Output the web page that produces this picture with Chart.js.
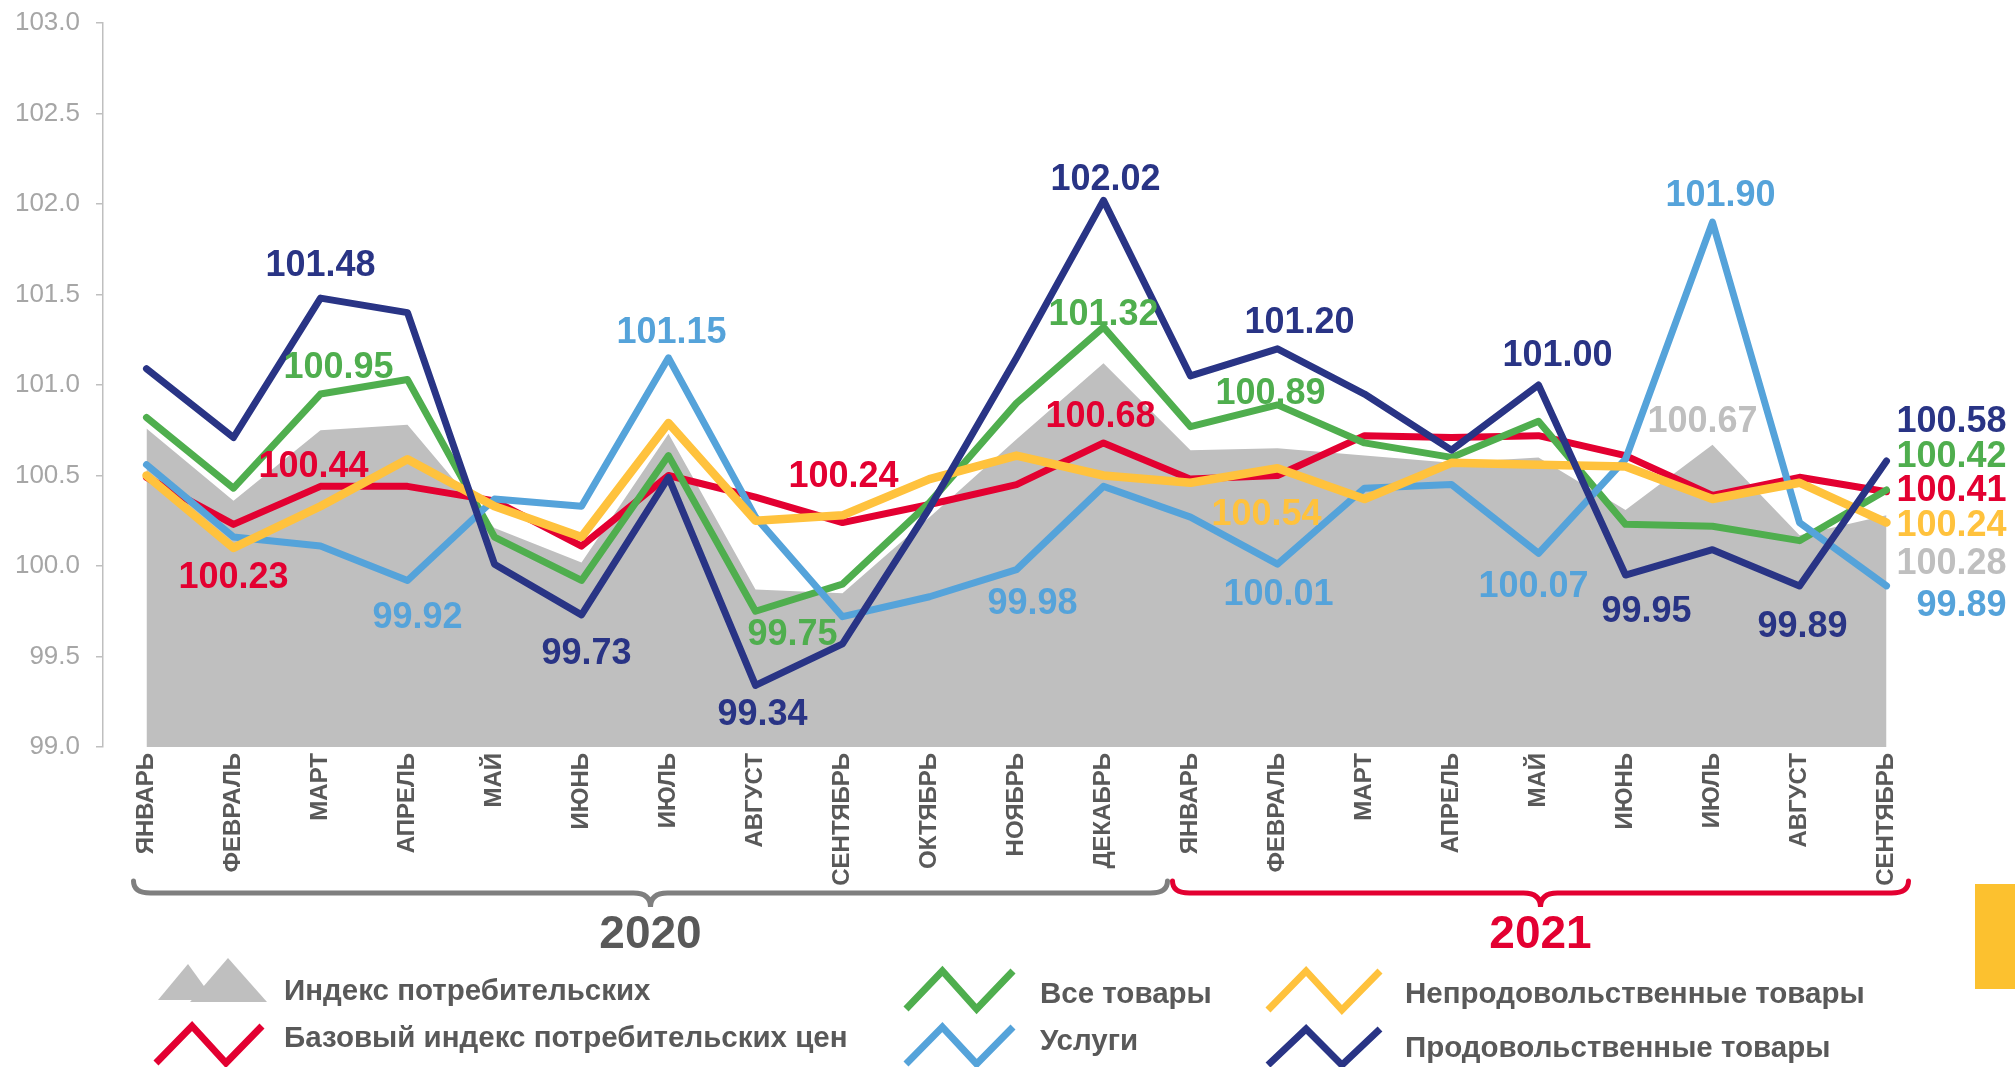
<!DOCTYPE html>
<html>
<head>
<meta charset="utf-8">
<script src="https://cdn.jsdelivr.net/npm/chart.js@4.4.1/dist/chart.umd.min.js"></script>
<style>
  html, body { margin: 0; padding: 0; background: #fff; }
  #wrap { position: relative; width: 2015px; height: 1067px; }
  #tab { position: absolute; left: 1975px; top: 884px; width: 40px; height: 105px; background: #fcc12f; }
</style>
</head>
<body>
<div id="wrap"><canvas id="cpiChart"></canvas><div id="tab"></div></div>
<script>
var months = ['ЯНВАРЬ', 'ФЕВРАЛЬ', 'МАРТ', 'АПРЕЛЬ', 'МАЙ', 'ИЮНЬ', 'ИЮЛЬ', 'АВГУСТ', 'СЕНТЯБРЬ', 'ОКТЯБРЬ', 'НОЯБРЬ', 'ДЕКАБРЬ',
              'ЯНВАРЬ', 'ФЕВРАЛЬ', 'МАРТ', 'АПРЕЛЬ', 'МАЙ', 'ИЮНЬ', 'ИЮЛЬ', 'АВГУСТ', 'СЕНТЯБРЬ'];
var years = ['2020', '2021'];

var cpi      = [100.76, 100.36, 100.75, 100.78, 100.21, 100.02, 100.73, 99.87, 99.85, 100.27, 100.70, 101.12, 100.64, 100.65, 100.61, 100.57, 100.60, 100.31, 100.67, 100.17, 100.28];
var coreCpi  = [100.49, 100.23, 100.44, 100.44, 100.36, 100.11, 100.50, 100.38, 100.24, 100.34, 100.45, 100.68, 100.48, 100.50, 100.72, 100.71, 100.72, 100.61, 100.39, 100.49, 100.41];
var allGoods = [100.82, 100.43, 100.95, 101.03, 100.16, 99.92, 100.61, 99.75, 99.90, 100.35, 100.90, 101.32, 100.77, 100.89, 100.68, 100.60, 100.80, 100.23, 100.22, 100.14, 100.42];
var services = [100.56, 100.16, 100.11, 99.92, 100.37, 100.33, 101.15, 100.27, 99.72, 99.83, 99.98, 100.44, 100.27, 100.01, 100.43, 100.45, 100.07, 100.59, 101.90, 100.24, 99.89];
var nonFood  = [100.50, 100.10, 100.33, 100.59, 100.33, 100.16, 100.79, 100.25, 100.28, 100.48, 100.61, 100.50, 100.46, 100.54, 100.37, 100.57, 100.56, 100.55, 100.37, 100.46, 100.24];
var food     = [101.09, 100.71, 101.48, 101.40, 100.01, 99.73, 100.49, 99.34, 99.57, 100.32, 101.15, 102.02, 101.05, 101.20, 100.95, 100.64, 101.00, 99.95, 100.09, 99.89, 100.58];

var FONT = '"Liberation Sans", Arial, sans-serif';
var GRAY = '#bfbfbf', RED = '#e30031', GREEN = '#4fae4e', BLUE = '#55a3da', YELLOW = '#ffc23d', NAVY = '#293485';

// which points get a value label: [index, dx, dy, align]
var labelSpots = {
  cpi:      [[18, -10, -26], [20, 120, 46, 'right']],
  coreCpi:  [[1, 0, 51], [2, -7, -22], [8, 1, -49], [11, -3, -29], [20, 120, -4, 'right']],
  allGoods: [[2, 18, -29], [7, 37, 21], [11, 0, -15], [13, -7, -14], [20, 120, -36, 'right']],
  services: [[3, 10, 35], [6, 3, -28], [10, 16, 31], [13, 1, 28], [16, -5, 31], [18, 8, -29], [20, 120, 17, 'right']],
  nonFood:  [[13, -11, 44], [20, 120, 0, 'right']],
  food:     [[2, 0, -35], [5, 5, 36], [7, 7, 27], [11, 2, -23], [13, 22, -29], [16, 19, -32], [17, 21, 34], [19, 3, 38], [20, 120, -42, 'right']]
};

function line(key, label, data, color, width, order) {
  return {
    key: key, label: label, data: data,
    borderColor: color, borderWidth: width, fill: false,
    pointRadius: 0, tension: 0, order: order,
    borderJoinStyle: 'round', borderCapStyle: 'round'
  };
}

var valueLabelPlugin = {
  id: 'valueLabels',
  afterDatasetsDraw: function(chart) {
    var ctx = chart.ctx;
    ctx.save();
    ctx.font = 'bold 36px ' + FONT;
    ctx.textBaseline = 'alphabetic';
    chart.data.datasets.forEach(function(ds, di) {
      var meta = chart.getDatasetMeta(di);
      (labelSpots[ds.key] || []).forEach(function(s) {
        var pt = meta.data[s[0]];
        ctx.fillStyle = ds.key === 'cpi' ? GRAY : ds.borderColor;
        ctx.textAlign = s[3] || 'center';
        ctx.fillText(ds.data[s[0]].toFixed(2), pt.x + s[1], pt.y + s[2] + 13);
      });
    });
    ctx.restore();
  }
};

function bracket(ctx, left, right, color) {
  var y = 893, mid = (left + right) / 2, r = 17;
  ctx.strokeStyle = color;
  ctx.lineWidth = 5;
  ctx.lineCap = 'round';
  ctx.beginPath();
  ctx.moveTo(left, y - 12);
  ctx.quadraticCurveTo(left, y, left + r, y);
  ctx.lineTo(mid - r, y);
  ctx.quadraticCurveTo(mid, y, mid, y + 14);
  ctx.quadraticCurveTo(mid, y, mid + r, y);
  ctx.lineTo(right - r, y);
  ctx.quadraticCurveTo(right, y, right, y - 12);
  ctx.stroke();
  return mid;
}

function zigzag(ctx, x, top, w, h, color) {
  ctx.strokeStyle = color;
  ctx.lineWidth = 7;
  ctx.lineJoin = 'miter';
  ctx.lineCap = 'butt';
  ctx.beginPath();
  ctx.moveTo(x, top + h);
  ctx.lineTo(x + w * 0.34, top);
  ctx.lineTo(x + w * 0.66, top + h);
  ctx.lineTo(x + w, top);
  ctx.stroke();
}

var decorPlugin = {
  id: 'decor',
  afterDraw: function(chart) {
    var ctx = chart.ctx, xs = chart.scales.x;
    ctx.save();
    // year brackets
    var x0 = xs.getPixelForValue(0), x12 = xs.getPixelForValue(12), x20 = xs.getPixelForValue(20);
    var m1 = bracket(ctx, x0 - 13, x12 - 23, '#7f7f7f');
    var m2 = bracket(ctx, x12 - 18, x20 + 22, RED);
    ctx.font = 'bold 46px ' + FONT;
    ctx.textAlign = 'center';
    ctx.textBaseline = 'alphabetic';
    ctx.fillStyle = '#595959';
    ctx.fillText(years[0], m1, 948);
    ctx.fillStyle = RED;
    ctx.fillText(years[1], m2, 948);

    // legend
    ctx.fillStyle = GRAY;
    ctx.beginPath();
    ctx.moveTo(158, 1000); ctx.lineTo(188, 964); ctx.lineTo(214, 1000); ctx.closePath(); ctx.fill();
    ctx.beginPath();
    ctx.moveTo(190, 1002); ctx.lineTo(228, 958); ctx.lineTo(267, 1002); ctx.closePath(); ctx.fill();
    zigzag(ctx, 156, 1026, 106, 37, RED);
    zigzag(ctx, 906, 971, 107, 38, GREEN);
    zigzag(ctx, 906, 1027, 107, 37, BLUE);
    zigzag(ctx, 1268, 971, 112, 39, YELLOW);
    zigzag(ctx, 1268, 1029, 112, 36, NAVY);

    var ds = chart.data.datasets;
    ctx.font = 'bold 29.5px ' + FONT;
    ctx.textAlign = 'left';
    ctx.fillStyle = '#595959';
    ctx.fillText(ds[0].label, 284, 1000);
    ctx.fillText(ds[1].label, 284, 1047);
    ctx.fillText(ds[2].label, 1040, 1003);
    ctx.fillText(ds[3].label, 1040, 1050);
    ctx.fillText(ds[4].label, 1405, 1003);
    ctx.fillText(ds[5].label, 1405, 1057);
    ctx.restore();
  }
};

var ctx = document.getElementById('cpiChart').getContext('2d');
var chart = new Chart(ctx, {
  type: 'line',
  data: {
    labels: months,
    datasets: [
      {
        key: 'cpi', label: 'Индекс потребительских', data: cpi,
        fill: 'start', backgroundColor: GRAY, borderWidth: 0, borderColor: GRAY,
        pointRadius: 0, tension: 0, order: 6
      },
      line('coreCpi', 'Базовый индекс потребительских цен', coreCpi, RED, 7, 5),
      line('allGoods', 'Все товары', allGoods, GREEN, 7, 4),
      line('services', 'Услуги', services, BLUE, 7, 3),
      line('nonFood', 'Непродовольственные товары', nonFood, YELLOW, 8.5, 2),
      line('food', 'Продовольственные товары', food, NAVY, 7, 1)
    ]
  },
  options: {
    responsive: true,
    maintainAspectRatio: false,
    animation: false,
    layout: { padding: { top: 23, right: 85, bottom: 0, left: 0 } },
    plugins: {
      legend: { display: false },
      tooltip: { enabled: false }
    },
    scales: {
      x: {
        offset: true,
        afterFit: function(scale) { scale.height = 320; },
        grid: { display: false, drawTicks: false },
        border: { display: false },
        ticks: {
          autoSkip: false, minRotation: 90, maxRotation: 90, padding: 6,
          color: '#595959', font: { family: FONT, size: 24, weight: 'bold' }
        }
      },
      y: {
        min: 99, max: 103,
        afterFit: function(scale) {
          scale.width = 103;
          scale.paddingTop = 0;
          scale.paddingBottom = 0;
        },
        grid: { drawOnChartArea: false, drawTicks: true, tickLength: 7, color: '#bfbfbf', lineWidth: 1.5 },
        border: { display: true, color: '#bfbfbf', width: 1.5 },
        ticks: {
          stepSize: 0.5, padding: 16, color: '#a6a6a6',
          font: { family: FONT, size: 26 },
          callback: function(v) { return v.toFixed(1); }
        }
      }
    }
  },
  plugins: [valueLabelPlugin, decorPlugin]
});
</script>
</body>
</html>
